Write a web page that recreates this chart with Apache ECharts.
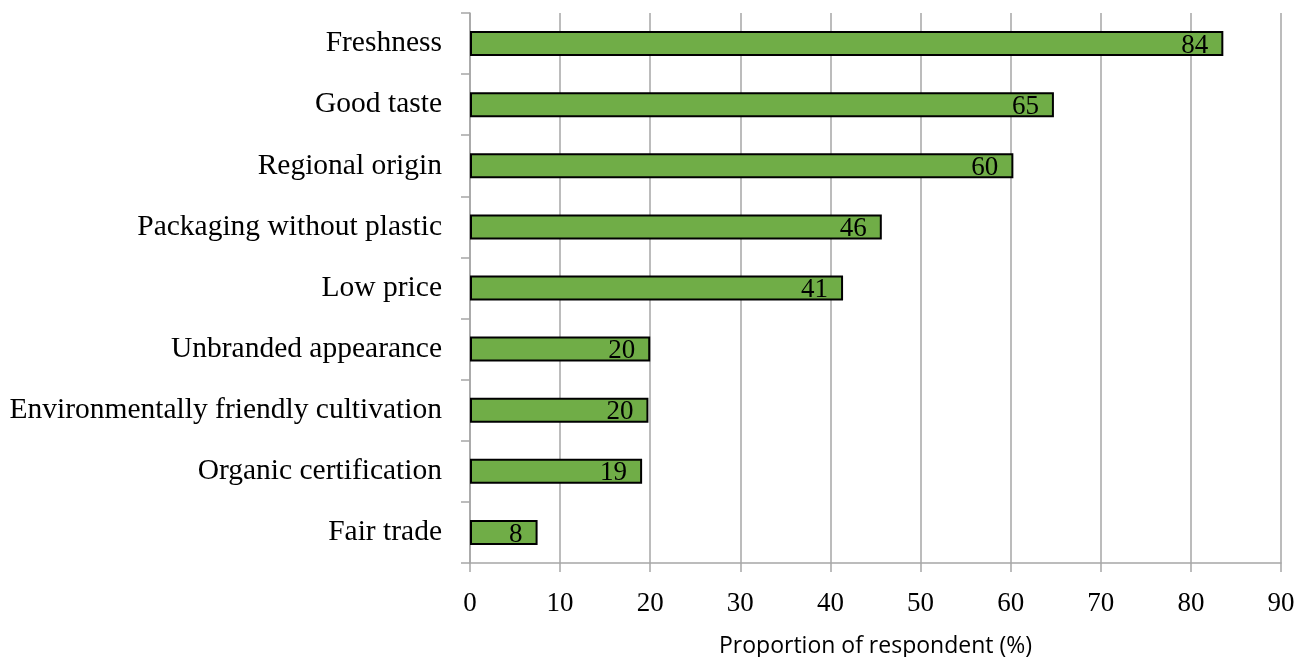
<!DOCTYPE html>
<html>
<head>
<meta charset="utf-8">
<script src="https://cdn.jsdelivr.net/npm/echarts@6/dist/echarts.min.js"></script>
<style>
  html, body { margin: 0; padding: 0; background: #fff; }
  #chart { width: 1309px; height: 657px; }
</style>
</head>
<body>
<div id="chart"></div>
<script>
// categories, top to bottom as in the picture
const categories = [
    'Freshness', 'Good taste', 'Regional origin', 'Packaging without plastic',
    'Low price', 'Unbranded appearance', 'Environmentally friendly cultivation',
    'Organic certification', 'Fair trade'
];
// share of respondents (%)
const values = [83.6, 64.8, 60.3, 45.7, 41.4, 20.0, 19.8, 19.1, 7.5];
const xTicks = [0, 10, 20, 30, 40, 50, 60, 70, 80, 90];

const serif = 'Liberation Serif';
const gray = '#a6a6a6';

let myChart = echarts.init(document.getElementById('chart'));
let option = {
    animation: false,
    grid: { left: 470, right: 28, top: 13, bottom: 94, outerBoundsMode: 'none', containLabel: false },
    xAxis: {
        type: 'value',
        min: xTicks[0],
        max: xTicks[xTicks.length - 1],
        interval: 10,
        name: 'Proportion of respondent (%)',
        nameLocation: 'middle',
        nameGap: 72,
        nameTextStyle: { fontFamily: 'Open Sans', fontSize: 23, color: '#000' },
        axisLine: { show: true, lineStyle: { color: gray, width: 1.5 } },
        axisTick: { show: true, length: 9, lineStyle: { color: gray, width: 1.5 } },
        axisLabel: { fontFamily: serif, fontSize: 27, color: '#000', margin: 27 },
        splitLine: { show: true, lineStyle: { color: gray, width: 1.5 } }
    },
    yAxis: {
        type: 'category',
        data: categories,
        inverse: true,
        axisLine: { show: true, lineStyle: { color: gray, width: 1.5 } },
        axisTick: { show: true, length: 9, inside: false, lineStyle: { color: gray, width: 1.5 } },
        axisLabel: { fontFamily: serif, fontSize: 29.5, color: '#000', margin: 28 }
    },
    series: [{
        type: 'bar',
        data: values,
        barWidth: 25,
        itemStyle: { color: '#70ad47', borderColor: '#000', borderWidth: 2 },
        label: {
            show: true,
            position: 'insideRight',
            distance: 15,
            fontFamily: serif,
            fontSize: 27,
            color: '#000',
            offset: [0, 2],
            formatter: (p) => Math.round(p.value)
        }
    }]
};
myChart.setOption(option);
</script>
</body>
</html>
